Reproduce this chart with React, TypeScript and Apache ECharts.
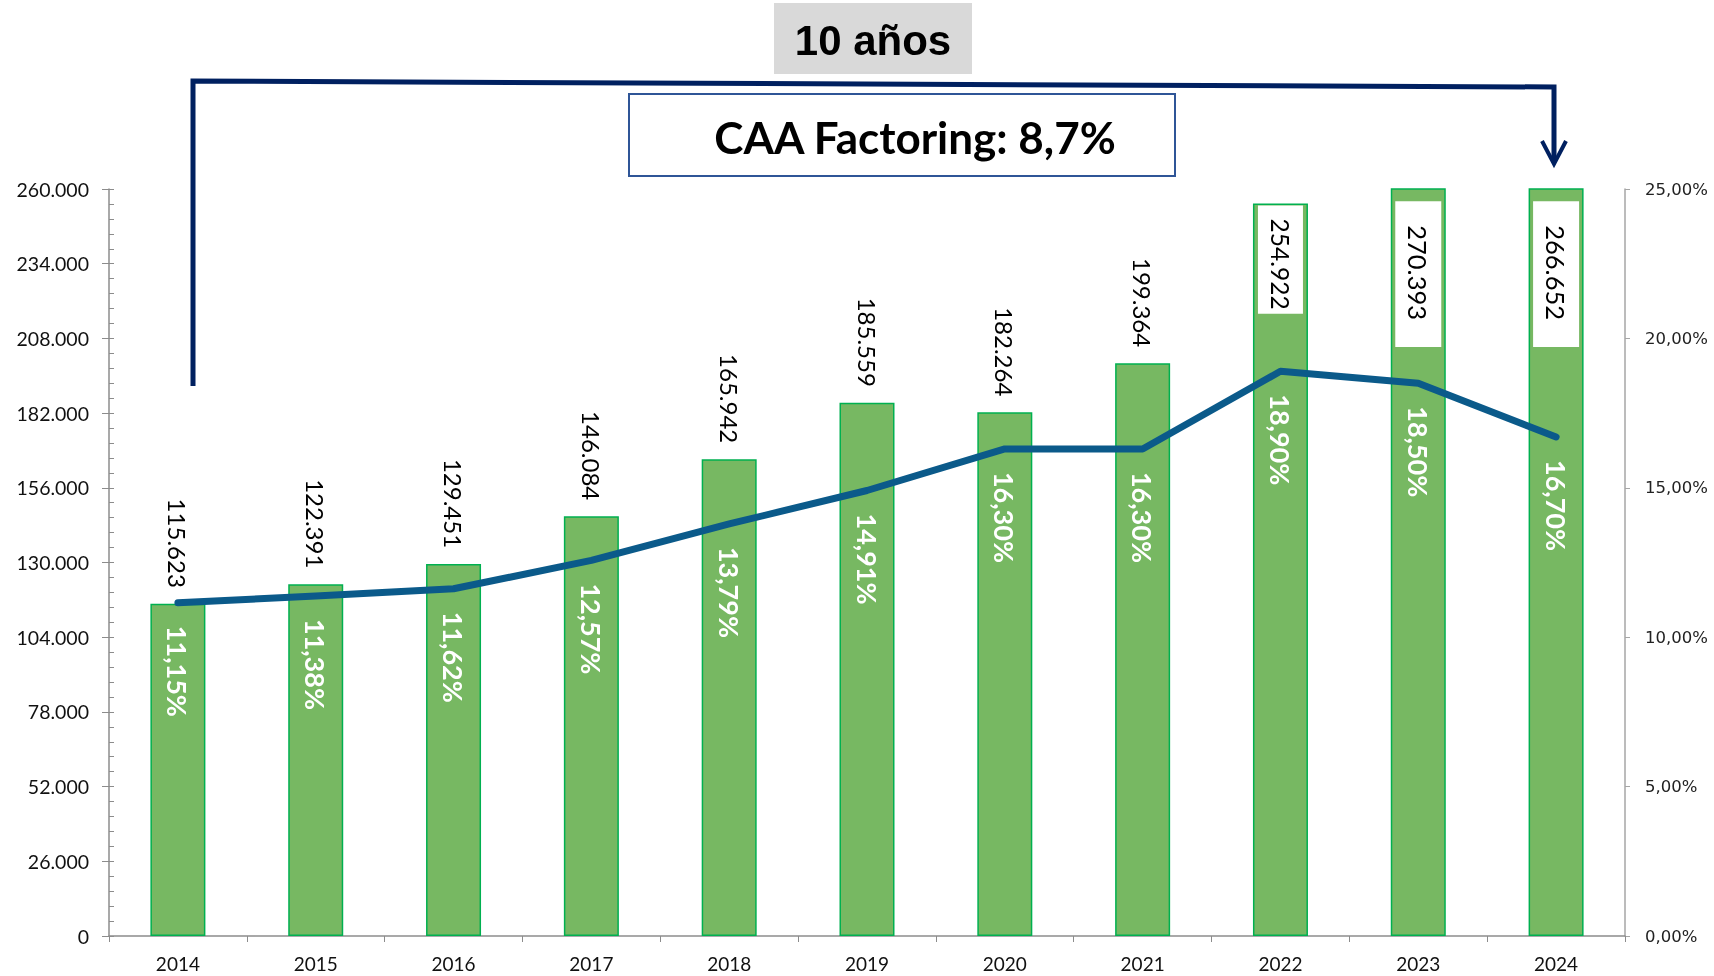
import React, { useEffect, useRef } from "react";
import * as echarts from "echarts";

const years = ["2014", "2015", "2016", "2017", "2018", "2019", "2020", "2021", "2022", "2023", "2024"];
const volumes = [115623, 122391, 129451, 146084, 165942, 185559, 182264, 199364, 254922, 270393, 266652];
const rates = [11.15, 11.38, 11.62, 12.57, 13.79, 14.91, 16.3, 16.3, 18.9, 18.5, 16.7];
const leftMax = 260000;
const leftInterval = 26000;
const rightMax = 25;
const rightInterval = 5;
const titleYears = "10 años";
const titleCAA = "CAA Factoring: 8,7%";

const fmtThousands = (n: number) => String(Math.round(n)).replace(/\B(?=(\d{3})+(?!\d))/g, ".");
const fmtPct = (v: number) => v.toFixed(2).replace(".", ",") + "%";

export default function App() {
  const ref = useRef<HTMLDivElement>(null);
  useEffect(() => {
    document.body.style.margin = "0";
    const chart = echarts.init(ref.current!, null, { renderer: "svg" });
    const axisColor = "#8c8c8c";
    const barData = volumes.map((v, i) => {
      const inside = v > 250000;
      if (!inside) return { value: v };
      const clipped = v > leftMax;
      return {
        value: v,
        label: {
          position: "insideTop",
          rotate: -90,
          align: "left",
          verticalAlign: "middle",
          distance: clipped ? 13 : 2,
          fontSize: clipped ? 25.5 : 24.5,
          backgroundColor: "#ffffff",
          padding: clipped ? [10, 27, 10, 24] : [10, 4, 10, 13],
        },
      };
    });
    chart.setOption({
      animation: false,
      grid: { left: 109, right: 89, top: 189, bottom: 40, containLabel: false },
      xAxis: {
        type: "category",
        data: years,
        axisLine: { lineStyle: { color: axisColor, width: 1.5 } },
        axisTick: { show: true, length: 6, lineStyle: { color: axisColor } },
        axisLabel: { color: "#111", fontFamily: "Lato", fontSize: 19, margin: 18 },
      },
      yAxis: [
        {
          type: "value",
          min: 0,
          max: leftMax,
          interval: leftInterval,
          position: "left",
          splitLine: { show: false },
          axisLine: { show: true, lineStyle: { color: axisColor, width: 1.5 } },
          axisTick: { show: true, inside: true, length: 5, lineStyle: { color: axisColor } },
          minorTick: { show: true, splitNumber: 5, length: 5, lineStyle: { color: axisColor } },
          axisLabel: {
            color: "#111",
            fontFamily: "Lato",
            fontSize: 19.5,
            margin: 20,
            formatter: (v: number) => fmtThousands(v),
          },
        },
        {
          type: "value",
          min: 0,
          max: rightMax,
          interval: rightInterval,
          position: "right",
          splitLine: { show: false },
          axisLine: { show: true, lineStyle: { color: "#a6a6a6", width: 1.5 } },
          axisTick: { show: true, length: 5, lineStyle: { color: "#a6a6a6" } },
          axisLabel: {
            color: "#222",
            fontFamily: "DejaVu Sans",
            fontSize: 16.5,
            margin: 20,
            formatter: (v: number) => fmtPct(v),
          },
        },
        {
          type: "value",
          min: 0,
          max: leftMax,
          interval: leftInterval,
          position: "left",
          splitLine: { show: false },
          axisLine: { show: false },
          axisTick: { show: true, length: 7, lineStyle: { color: axisColor } },
          axisLabel: { show: false },
        },
      ],
      series: [
        {
          type: "bar",
          yAxisIndex: 0,
          data: barData,
          barWidth: 55,
          clip: true,
          itemStyle: { color: "#77b862", borderColor: "#00b050", borderWidth: 1.5 },
          label: {
            show: true,
            position: "top",
            rotate: -90,
            align: "right",
            verticalAlign: "middle",
            distance: 16,
            color: "#000",
            fontFamily: "Lato",
            fontSize: 24,
            formatter: (p: any) => fmtThousands(p.value),
          },
        },
        {
          type: "line",
          yAxisIndex: 1,
          data: rates,
          symbol: "circle",
          symbolSize: 2,
          itemStyle: { color: "#0b5a8a" },
          lineStyle: { color: "#0b5a8a", width: 7, cap: "round", join: "round" },
          label: {
            show: true,
            position: "bottom",
            rotate: -90,
            align: "left",
            verticalAlign: "middle",
            distance: 22,
            color: "#ffffff",
            fontFamily: "Lato",
            fontWeight: "bold",
            fontSize: 27,
            formatter: (p: any) => fmtPct(p.value),
          },
          z: 3,
        },
      ],
      graphic: [
        { type: "rect", shape: { x: 774, y: 3, width: 198, height: 71 }, style: { fill: "#d9d9d9" } },
        {
          type: "text",
          x: 873,
          y: 40,
          style: {
            text: titleYears,
            align: "center",
            verticalAlign: "middle",
            font: "bold 42px 'Liberation Sans', Arial, sans-serif",
            fill: "#000",
          },
        },
        {
          type: "polyline",
          shape: { points: [[193, 386], [193, 81], [1554, 87], [1554, 162]] },
          style: { stroke: "#002060", lineWidth: 5, fill: "none" },
        },
        {
          type: "polyline",
          shape: { points: [[1542, 141], [1554, 164], [1566, 141]] },
          style: { stroke: "#002060", lineWidth: 4, fill: "none" },
        },
        {
          type: "rect",
          shape: { x: 629, y: 94, width: 546, height: 82 },
          style: { fill: "#ffffff", stroke: "#2f5597", lineWidth: 2 },
        },
        {
          type: "text",
          x: 915,
          y: 137,
          style: {
            text: titleCAA,
            align: "center",
            verticalAlign: "middle",
            font: "bold 44px Lato, sans-serif",
            fill: "#000",
          },
        },
      ],
    });
    return () => chart.dispose();
  }, []);
  return <div ref={ref} style={{ position: "fixed", left: 0, top: 0, width: 1714, height: 976 }} />;
}
